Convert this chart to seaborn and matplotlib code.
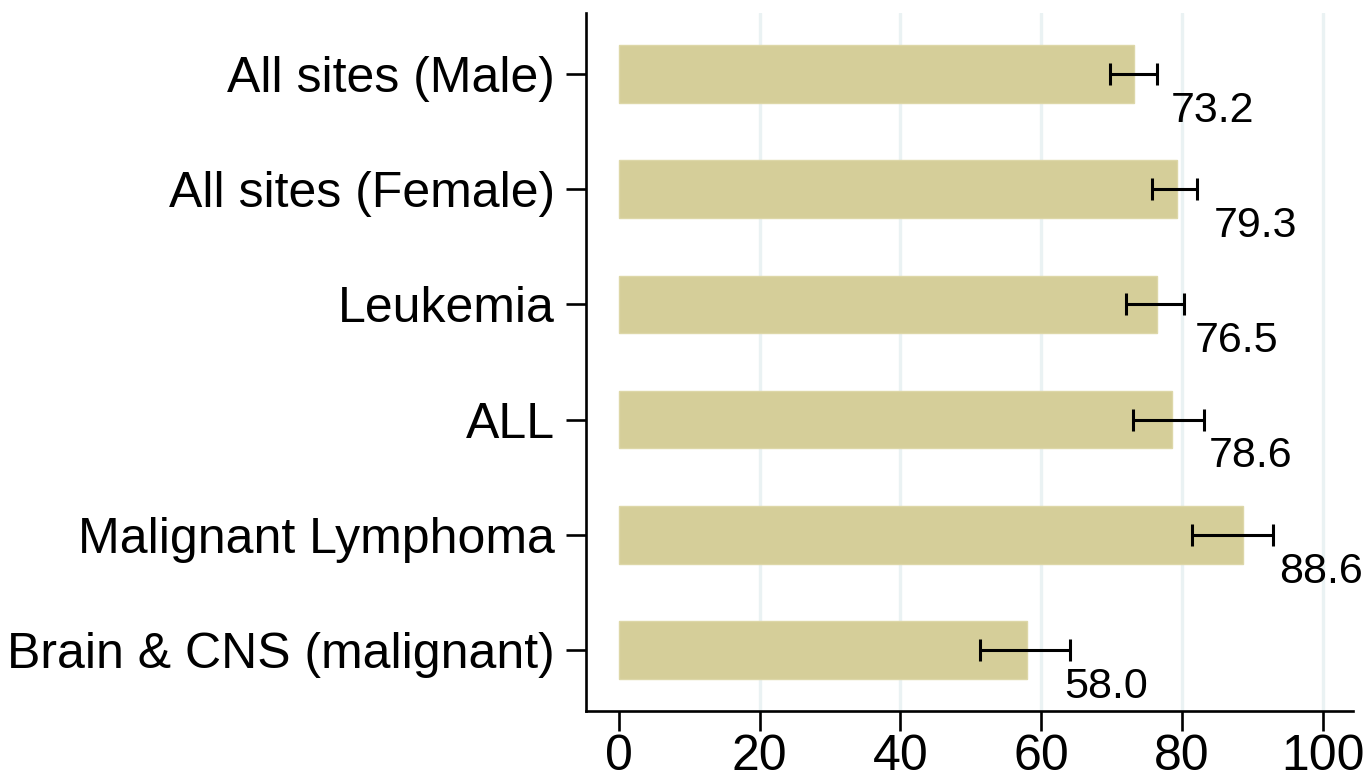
import matplotlib
matplotlib.use("Agg")
import matplotlib.pyplot as plt
import seaborn as sns
import pandas as pd
import numpy as np

categories = ["All sites (Male)", "All sites (Female)", "Leukemia", "ALL",
              "Malignant Lymphoma", "Brain & CNS (malignant)"]
values = [73.2, 79.3, 76.5, 78.6, 88.6, 58.0]
ci_low = [69.7, 75.7, 72.0, 73.0, 81.4, 51.3]
ci_high = [76.4, 82.2, 80.3, 83.1, 93.0, 64.1]
value_labels = ["73.2", "79.3", "76.5", "78.6", "88.6", "58.0"]
xticks = [0, 20, 40, 60, 80, 100]

sns.set_theme(style="white")
plt.rcParams["font.family"] = ["Liberation Sans", "DejaVu Sans"]

df = pd.DataFrame({"cat": categories, "val": values})

fig = plt.figure(figsize=(13.67, 7.79), dpi=100)
ax = fig.add_axes([586/1367, 1-711/779, (1353-586)/1367, (711-13)/779])

for t in [20, 40, 60, 80, 100]:
    ax.axvline(t, color="#eaf2f3", lw=2.4, zorder=0)

sns.barplot(data=df, y="cat", x="val", orient="h", color="#d5ce99",
            saturation=1, width=0.5, edgecolor="#ddd7a8", linewidth=1,
            ax=ax, zorder=2)

y = np.arange(len(categories))
vals = np.array(values)
ax.errorbar(vals, y, xerr=[vals - np.array(ci_low), np.array(ci_high) - vals],
            fmt="none", ecolor="black", elinewidth=2.2, capsize=8, capthick=2.2,
            zorder=3)

for yi, v, lab in zip(y, values, value_labels):
    ax.text(v + 11.2, yi + 0.32, lab, ha="center", va="center", fontsize=31,
            color="black", zorder=4)

ax.set_xlim(-4.69, 104.3)
ax.set_ylim(5.53, -0.53)
ax.set_xticks(xticks)
ax.set_xticklabels([str(t) for t in xticks])
ax.set_xlabel("")
ax.set_ylabel("")

for s in ["top", "right"]:
    ax.spines[s].set_visible(False)
for s in ["left", "bottom"]:
    ax.spines[s].set_visible(True)
    ax.spines[s].set_color("black")
    ax.spines[s].set_linewidth(1.9)

ax.tick_params(axis="both", which="major", direction="out", length=14.5,
               width=1.9, color="black", labelcolor="black", labelsize=36,
               bottom=True, left=True)
ax.tick_params(axis="y", pad=8)
ax.tick_params(axis="x", pad=2)
ax.grid(False)

fig.savefig("out.png", dpi=100)
